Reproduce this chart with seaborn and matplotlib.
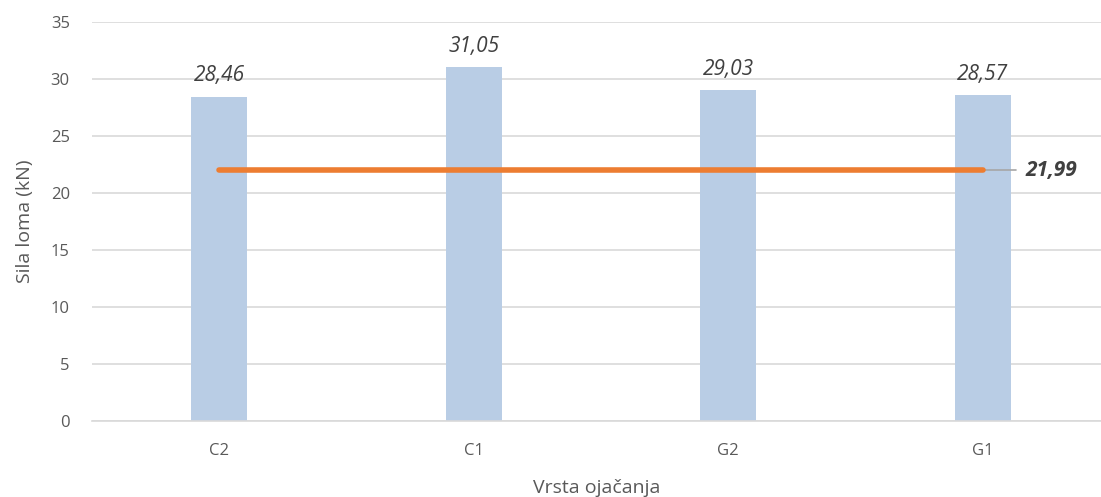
import matplotlib
matplotlib.use("Agg")
import matplotlib.pyplot as plt
import seaborn as sns
import pandas as pd

categories = ["C2", "C1", "G2", "G1"]
values = [28.46, 31.05, 29.03, 28.57]
reference_value = 21.99
yticks = [0, 5, 10, 15, 20, 25, 30, 35]

sns.set_theme(style="white")
plt.rcParams['font.family'] = ['Open Sans', 'DejaVu Sans']

fig = plt.figure(figsize=(11.01, 4.97), dpi=100)
ax = fig.add_axes([92/1101, 76/497, 1009/1101, 399/497])

df = pd.DataFrame({"cat": categories, "val": values})
sns.barplot(data=df, x="cat", y="val", color="#B9CDE5", width=0.22, ax=ax,
            saturation=1, linewidth=0, edgecolor="none")

ax.set_ylim(0, 35)
ax.set_xlim(-0.5, 3.465)
ax.set_yticks(yticks)
ax.yaxis.grid(True, color="#D9D9D9", linewidth=1.2)
ax.set_axisbelow(True)
for s in ["top", "right", "left"]:
    ax.spines[s].set_visible(False)
ax.spines["bottom"].set_color("#D9D9D9")
ax.spines["bottom"].set_linewidth(1.2)
ax.tick_params(axis="y", length=0, labelsize=12, colors="#595959", pad=16)
ax.tick_params(axis="x", length=0, labelsize=12, colors="#595959", pad=16)

for i, v in enumerate(values):
    ax.text(i, v + 0.9, f"{v:.2f}".replace(".", ","), ha="center", va="bottom",
            fontsize=15, style="italic", color="#404040")

xs = list(range(len(categories)))
ax.plot([xs[0], xs[-1]], [reference_value, reference_value], color="#ED7D31",
        linewidth=4, solid_capstyle="round", zorder=3)
ax.plot([xs[-1], xs[-1] + 0.13], [reference_value, reference_value], color="#A6A6A6",
        linewidth=1.2, zorder=2)
ax.text(xs[-1] + 0.17, reference_value, f"{reference_value:.2f}".replace(".", ","),
        ha="left", va="center", fontsize=15, style="italic", weight="bold", color="#404040")

ax.set_xlabel("Vrsta ojačanja", fontsize=14, color="#595959", labelpad=14)
ax.set_ylabel("Sila loma (kN)", fontsize=14, color="#595959", labelpad=12)

fig.savefig("out.png", dpi=100)
